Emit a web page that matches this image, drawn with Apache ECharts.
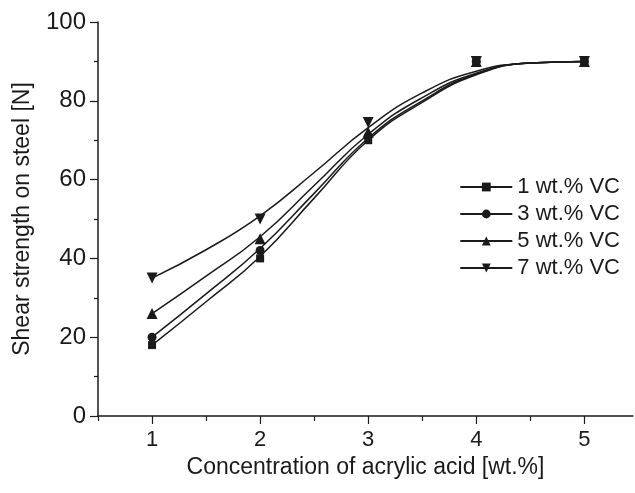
<!DOCTYPE html>
<html>
<head>
<meta charset="utf-8">
<script src="https://cdn.jsdelivr.net/npm/echarts@6/dist/echarts.min.js"></script>
<style>
  html, body { margin: 0; padding: 0; background: #fff; }
  #chart { width: 635px; height: 493px; }
</style>
</head>
<body>
<div id="chart"></div>
<script>
// measured points
const concentrations = [1, 2, 3, 4, 5]
const vc1 = [18, 40, 70, 90, 90]
const vc3 = [20, 42, 71, 90, 90]
const vc5 = [26, 45, 72, 90, 90]
const vc7 = [35, 50, 74.5, 90, 90]

// fitted curves
const curveX = [1, 1.5, 2, 2.5, 3, 3.5, 4, 4.5, 5]
const fit1 = [18, 29, 40.5, 55.3, 70, 79.6, 86.6, 89.6, 90]
const fit3 = [20, 31, 42.5, 56.5, 70.5, 80, 86.8, 89.6, 90]
const fit5 = [26, 35.5, 45.5, 58.5, 71.5, 80.8, 87, 89.6, 90]
const fit7 = [35, 42.2, 50.8, 61.8, 73.2, 82, 87.5, 89.6, 90]

// tick positions
const xMajorTicks = [1, 2, 3, 4, 5]
const xMinorTicks = [0.5, 1.5, 2.5, 3.5, 4.5]

const seriesNames = ['1 wt.% VC', '3 wt.% VC', '5 wt.% VC', '7 wt.% VC']
const symbols = ['rect', 'circle', 'triangle', 'path://M0,0 L10,0 L5,9 Z']
const symbolSizes = [8, 9, 11, 11]
const fits = [fit1, fit3, fit5, fit7]
const points = [vc1, vc3, vc5, vc7]

const ink = '#1a1a1a'
const font = 'Liberation Sans, Arial, sans-serif'

const chart = echarts.init(document.getElementById('chart'))

const series = []
seriesNames.forEach((name, i) => {
  series.push({
    name: name,
    type: 'line',
    smooth: 0.5,
    showSymbol: false,
    symbol: symbols[i],
    symbolSize: symbolSizes[i],
    lineStyle: { color: ink, width: 1.5 },
    itemStyle: { color: ink },
    data: curveX.map((x, j) => [x, fits[i][j]]),
    z: 2
  })
})
seriesNames.forEach((name, i) => {
  series.push({
    name: name,
    type: 'scatter',
    symbol: symbols[i],
    symbolSize: symbolSizes[i],
    itemStyle: { color: ink, opacity: 1 },
    data: concentrations.map((x, j) => [x, points[i][j]]),
    z: 3
  })
})

const option = {
  animation: false,
  backgroundColor: '#fff',
  textStyle: { fontFamily: font, color: ink },
  grid: { left: 98, top: 22, right: 2, bottom: 77 },
  legend: {
    data: seriesNames,
    orient: 'vertical',
    right: 10,
    top: 171,
    itemWidth: 52,
    itemHeight: 11,
    itemGap: 5,
    textStyle: { fontFamily: font, fontSize: 22, color: ink }
  },
  xAxis: [
    {
      type: 'value',
      min: 0.5,
      max: 5.45,
      name: 'Concentration of acrylic acid [wt.%]',
      nameLocation: 'middle',
      nameGap: 40,
      nameTextStyle: { fontFamily: font, fontSize: 23, color: ink },
      axisLine: { show: true, lineStyle: { color: ink, width: 1.5 } },
      axisTick: {
        show: true, inside: false, length: 8, customValues: xMajorTicks,
        lineStyle: { color: ink, width: 1.2 }
      },
      axisLabel: {
        margin: 13, fontSize: 22, color: ink, fontFamily: font,
        customValues: xMajorTicks
      },
      splitLine: { show: false }
    },
    {
      type: 'value',
      min: 0.5,
      max: 5.45,
      position: 'bottom',
      axisLine: { show: false },
      axisTick: {
        show: true, inside: false, length: 5, customValues: xMinorTicks,
        lineStyle: { color: ink, width: 1.2 }
      },
      axisLabel: { show: false },
      splitLine: { show: false }
    }
  ],
  yAxis: {
    type: 'value',
    min: 0,
    max: 100,
    interval: 20,
    name: 'Shear strength on steel [N]',
    nameLocation: 'middle',
    nameGap: 64,
    nameTextStyle: { fontFamily: font, fontSize: 23, color: ink },
    axisLine: { show: true, lineStyle: { color: ink, width: 1.5 } },
    axisTick: { show: true, inside: false, length: 8, lineStyle: { color: ink, width: 1.2 } },
    minorTick: { show: true, splitNumber: 2, length: 4, lineStyle: { color: ink, width: 1.2 } },
    axisLabel: { margin: 12, fontSize: 24, color: ink, fontFamily: font },
    splitLine: { show: false }
  },
  series: series
}

chart.setOption(option)
</script>
</body>
</html>
